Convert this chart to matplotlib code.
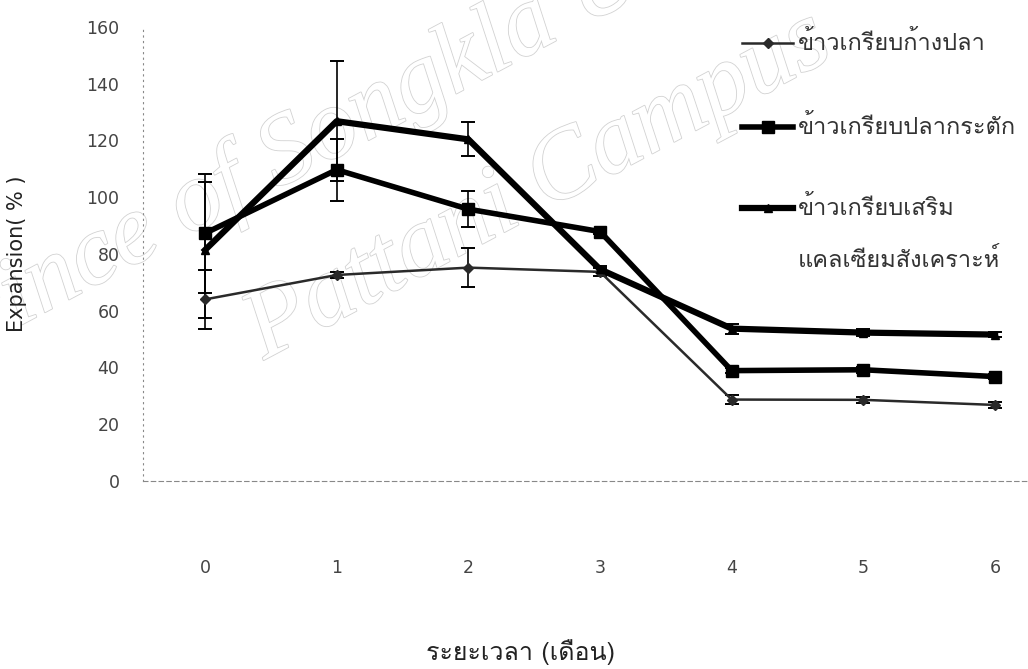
import matplotlib
matplotlib.use("Agg")
import matplotlib.pyplot as plt
from matplotlib import font_manager
from matplotlib.ft2font import FT2Font
from matplotlib.lines import Line2D
import matplotlib.patheffects as pe

# =========================
# Data
# =========================

months = [0, 1, 2, 3, 4, 5, 6]

fishbone = [64.0, 72.6, 75.2, 73.7, 28.7, 28.6, 26.8]
fishbone_err = [10.3, 1.0, 7.0, 1.5, 1.5, 1.0, 1.0]

anchovy = [87.3, 109.7, 95.8, 87.9, 38.9, 39.2, 36.8]
anchovy_err = [21.0, 11.0, 6.4, 1.0, 1.0, 1.0, 1.0]

calcium = [81.4, 126.8, 120.4, 74.6, 53.7, 52.3, 51.6]
calcium_err = [23.9, 21.2, 6.0, 1.0, 1.8, 1.2, 1.0]

labels = [
    ["ข้าวเกรียบก้างปลา"],
    ["ข้าวเกรียบปลากระตัก"],
    ["ข้าวเกรียบเสริม", "แคลเซียมสังเคราะห์"],
]
y_ticks = [0, 20, 40, 60, 80, 100, 120, 140, 160]


def find_thai_font():
    for f in font_manager.fontManager.ttflist:
        try:
            if ord("ก") in FT2Font(f.fname).get_charmap():
                return f.name
        except Exception:
            pass
    return "DejaVu Sans"


THAI = find_thai_font()

W, H = 1028, 669
fig = plt.figure(figsize=(W / 100, H / 100), dpi=100)
ax = fig.add_axes([143 / W, 188 / H, 885 / W, 454 / H])

# watermark (outlined, pale, behind everything)
wm = dict(fontsize=72, family="Liberation Serif", style="italic", color="white",
          rotation=28, rotation_mode="anchor", ha="left", va="baseline", zorder=-5,
          path_effects=[pe.withStroke(linewidth=1.2, foreground="#d2d2d2")])
fig.text(-71 / W, 1 - 374 / H, "Prince of Songkla University", **wm)
fig.text(264 / W, 1 - 360 / H, "Pattani Campus", **wm)

styles = [
    dict(color="#2a2a2a", lw=1.8, marker="D", ms=5),
    dict(color="black", lw=4.0, marker="s", ms=8),
    dict(color="black", lw=4.5, marker="^", ms=6),
]

series = [(fishbone, fishbone_err), (anchovy, anchovy_err), (calcium, calcium_err)]
for (vals, errs), st in zip(series, styles):
    ax.errorbar(months, vals, yerr=errs, ecolor="black", elinewidth=1.2,
                capsize=5, capthick=1.4, clip_on=False, zorder=3, **st)

ax.set_xlim(-0.471, 6.25)
ax.set_ylim(0, 160)
ax.set_xticks(months)
ax.set_yticks(y_ticks)
ax.tick_params(length=0, labelsize=12.5, labelcolor="#444444")
ax.tick_params(axis="y", pad=17)
ax.tick_params(axis="x", pad=56)

for s in ["top", "right"]:
    ax.spines[s].set_visible(False)
ax.spines["left"].set_linestyle((0, (1, 4)))
ax.spines["left"].set_color("#888888")
ax.spines["bottom"].set_linestyle((0, (4, 3)))
ax.spines["bottom"].set_color("#888888")
ax.patch.set_alpha(0)

ax.set_ylabel("Expansion( % )", fontsize=15, color="#222222")
ax.yaxis.set_label_coords(-0.131, 0.5)
fig.text(521 / W, 1 - 652 / H, "ระยะเวลา (เดือน)", family=[THAI, "DejaVu Sans"],
         fontsize=18, ha="center", va="center", color="#222222")

# legend drawn by hand so the marker sits on the first text line
legend_y = [43, 127, 208]
for lines, st, yy in zip(labels, styles, legend_y):
    yf = 1 - yy / H
    fig.add_artist(Line2D([742 / W, 793 / W], [yf, yf], transform=fig.transFigure,
                          color=st["color"], lw=st["lw"]))
    fig.add_artist(Line2D([767.5 / W], [yf], transform=fig.transFigure,
                          color=st["color"], marker=st["marker"], ms=st["ms"]))
    for k, txt in enumerate(lines):
        fig.text(798 / W, yf - k * 52 / H, txt, family=[THAI, "DejaVu Sans"],
                 fontsize=17, ha="left", va="center", color="#333333")

fig.savefig("out.png", dpi=100)
